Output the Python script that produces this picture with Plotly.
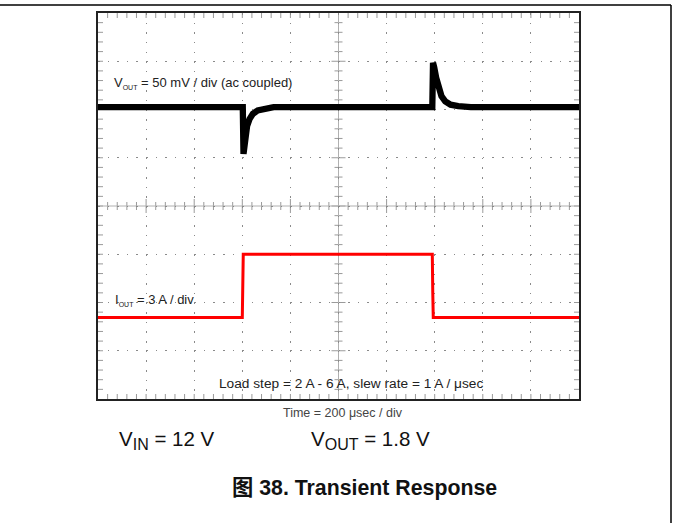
import plotly.graph_objects as go

# ---- data (in oscilloscope divisions) ----
vout_t = [0, 3.01, 3.025, 3.06, 3.10, 3.15, 3.22, 3.32, 3.45, 3.65,
          6.95, 6.965, 6.99, 7.03, 7.08, 7.14, 7.22, 7.33, 7.49, 7.75, 10]
vout_v = [2.05, 2.05, 1.08, 1.45, 1.66, 1.80, 1.91, 1.98, 2.02, 2.05,
          2.05, 2.97, 2.87, 2.66, 2.45, 2.28, 2.17, 2.10, 2.07, 2.05, 2.05]

iout_t = [0, 3.0, 3.02, 6.95, 6.96, 6.97, 10]
iout_v = [-2.31, -2.31, -1.0, -1.0, -1.8, -2.31, -2.31]

ground_levels = [2.03, -2.98]

W, H = 673, 523
ML, MR, MT, MB = 98, 94, 13, 124
PW, PH = W - ML - MR, H - MT - MB
XDIV, YDIV = 10, 8
px_x = XDIV / PW   # div per pixel horizontally
px_y = YDIV / PH   # div per pixel vertically

fig = go.Figure()

fig.add_trace(go.Scatter(x=iout_t, y=iout_v, mode="lines",
                         line=dict(color="#ff0000", width=3), hoverinfo="skip"))
fig.add_trace(go.Scatter(x=vout_t, y=vout_v, mode="lines",
                         line=dict(color="#000000", width=6.3), hoverinfo="skip"))
fig.add_trace(go.Scatter(x=[-0.09] * len(ground_levels), y=ground_levels, mode="markers",
                         marker=dict(symbol="triangle-right", size=7, color="#222"),
                         cliponaxis=False, hoverinfo="skip"))

# ---- graticule ticks ----
path = []
n_x = int(XDIV / 0.2)
n_y = int(YDIV / 0.2)
for i in range(1, n_x):
    x = i * 0.2
    major = (i % 5 == 0)
    L = 5 * px_y
    path.append(f"M{x},{-YDIV/2} L{x},{-YDIV/2 + L}")
    path.append(f"M{x},{YDIV/2} L{x},{YDIV/2 - L}")
    c = (7 if major else 4) * px_y
    path.append(f"M{x},{-c} L{x},{c}")
for j in range(1, n_y):
    y = -YDIV / 2 + j * 0.2
    major = (j % 5 == 0)
    L = 5 * px_x
    path.append(f"M0,{y} L{L},{y}")
    path.append(f"M{XDIV},{y} L{XDIV - L},{y}")
    c = (7 if major else 4) * px_x
    path.append(f"M{XDIV/2 - c},{y} L{XDIV/2 + c},{y}")

shapes = [
    dict(type="path", path=" ".join(path), xref="x", yref="y",
         line=dict(color="#9a9a9a", width=1), layer="below"),
    dict(type="line", x0=0, x1=XDIV, y0=0, y1=0, xref="x", yref="y",
         line=dict(color="#b0b0b0", width=1), layer="below"),
    dict(type="line", x0=XDIV / 2, x1=XDIV / 2, y0=-YDIV / 2, y1=YDIV / 2, xref="x", yref="y",
         line=dict(color="#b0b0b0", width=1), layer="below"),
    # page frame: top rule and right rule
    dict(type="line", xref="paper", yref="paper",
         x0=-ML / PW, x1=(671 - ML) / PW, y0=1 + (MT - 5) / PH, y1=1 + (MT - 5) / PH,
         line=dict(color="#000", width=1.5)),
    dict(type="line", xref="paper", yref="paper",
         x0=(671 - ML) / PW, x1=(671 - ML) / PW, y0=1 + (MT - 5) / PH, y1=-MB / PH,
         line=dict(color="#000", width=1.5)),
]

FONT = "Arial, 'Liberation Sans', 'Noto Sans CJK SC', sans-serif"


def py(pix):
    return -(pix - MT - PH) / PH


def pxx(pix):
    return (pix - ML) / PW


ann = [
    dict(x=0.30, y=2.54, xref="x", yref="y", xanchor="left", yanchor="middle",
         text="V<sub><span style='font-size:7px'>OUT</span></sub> = 50 mV / div (ac coupled)",
         showarrow=False, font=dict(size=13, color="#222", family=FONT)),
    dict(x=0.31, y=-1.95, xref="x", yref="y", xanchor="left", yanchor="middle",
         text="I<sub><span style='font-size:7px'>OUT</span></sub> = 3 A / div",
         showarrow=False, font=dict(size=13, color="#222", family=FONT)),
    dict(x=5.27, y=-3.67, xref="x", yref="y", xanchor="center", yanchor="middle",
         text="Load step = 2 A - 6 A, slew rate = 1 A / μsec",
         showarrow=False, font=dict(size=13.7, color="#222", family=FONT)),
    dict(x=pxx(343), y=py(413), xref="paper", yref="paper",
         xanchor="center", yanchor="middle", text="Time = 200 μsec / div",
         showarrow=False, font=dict(size=12.5, color="#444", family=FONT)),
    dict(x=pxx(117), y=py(440), xref="paper", yref="paper",
         xanchor="left", yanchor="middle",
         text="V<sub><span style='font-size:16px'>IN</span></sub> = 12 V",
         showarrow=False, font=dict(size=20.5, color="#111", family=FONT)),
    dict(x=pxx(309), y=py(440), xref="paper", yref="paper",
         xanchor="left", yanchor="middle",
         text="V<sub><span style='font-size:16px'>OUT</span></sub> = 1.8 V",
         showarrow=False, font=dict(size=20.5, color="#111", family=FONT)),
    dict(x=pxx(364.5), y=py(488), xref="paper", yref="paper",
         xanchor="center", yanchor="middle", text="<b>图 38. Transient Response</b>",
         showarrow=False, font=dict(size=21.3, color="#111", family=FONT)),
]

axis_common = dict(showticklabels=False, zeroline=False, ticks="",
                   showline=True, mirror=True, linecolor="#222", linewidth=2,
                   showgrid=True, gridcolor="#8a8a8a", gridwidth=1, fixedrange=True)

fig.update_layout(
    width=W, height=H,
    margin=dict(l=ML, r=MR, t=MT, b=MB),
    paper_bgcolor="white", plot_bgcolor="white",
    showlegend=False,
    xaxis=dict(range=[0, XDIV], dtick=1, tick0=0,
               griddash=f"1.5px,{PH / 40 - 1.5:.3f}px", **axis_common),
    yaxis=dict(range=[-YDIV / 2, YDIV / 2], dtick=1, tick0=0,
               griddash=f"1.5px,{PW / 50 - 1.5:.3f}px", **axis_common),
    shapes=shapes,
    annotations=ann,
)

fig.write_html("out.html", config={"displayModeBar": False},
               post_script="document.body.style.margin='0px';document.body.style.overflow='hidden';")
